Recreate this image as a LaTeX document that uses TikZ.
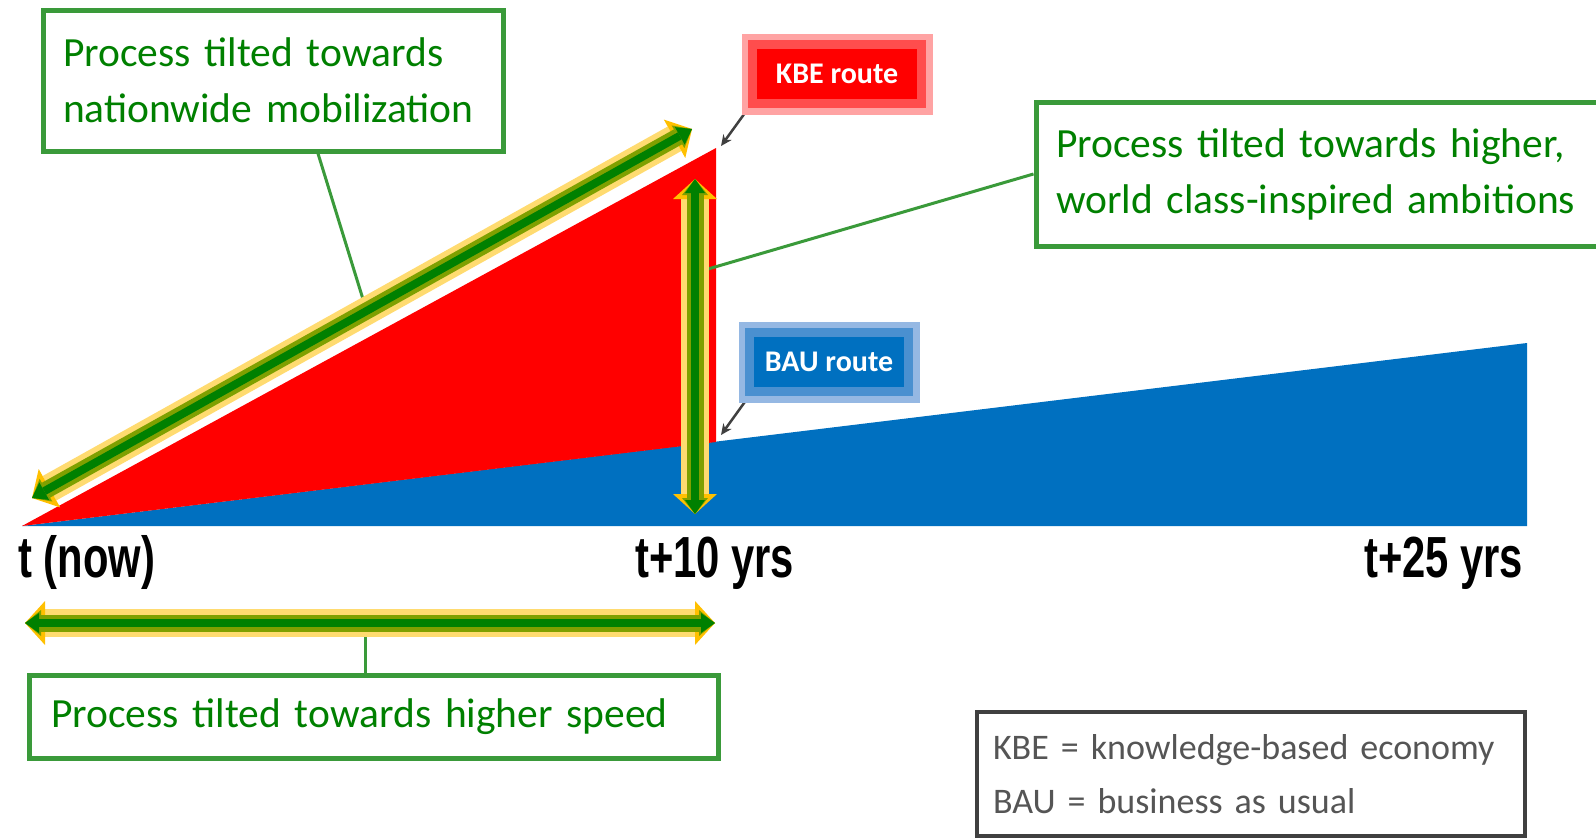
\documentclass[tikz,border=0pt]{standalone}
\usepackage{fontspec}
\setmainfont{Carlito}
\newfontfamily\axisfont{Liberation Sans}
\usetikzlibrary{arrows.meta,calc}
\definecolor{kred}{HTML}{FF0000}
\definecolor{kredmid}{HTML}{FF4D4D}
\definecolor{kredhalo}{HTML}{FFA3A3}
\definecolor{bblue}{HTML}{0070C0}
\definecolor{bbluemid}{HTML}{4A90D0}
\definecolor{bbluehalo}{HTML}{95B8E3}
\definecolor{pgreen}{HTML}{008000}
\definecolor{boxgreen}{HTML}{3A9A3A}
\definecolor{glowlt}{HTML}{FFDB70}
\definecolor{glowtip}{HTML}{FFC000}
\definecolor{glowol}{HTML}{7FA000}
\definecolor{legendgray}{HTML}{404040}
\definecolor{legendtext}{HTML}{555555}
\definecolor{pointergray}{HTML}{404040}
\tikzset{
  gbox/.style={draw=boxgreen, line width=5pt, fill=white, text=pgreen,
    font=\fontsize{41.5}{56}\selectfont, align=left, inner ysep=0pt},
  lbox/.style={draw=legendgray, line width=4pt, fill=white, text=legendtext,
    font=\fontsize{36}{54}\selectfont, align=left, inner ysep=0pt},
  routelabel/.style={line width=9pt, inner sep=0pt, text=white,
    font=\bfseries\fontsize{30}{30}\selectfont},
  kbestyle/.style={routelabel, fill=kred, draw=kredmid,
    preaction={draw=kredhalo, line width=22pt}},
  baustyle/.style={routelabel, fill=bblue, draw=bbluemid,
    preaction={draw=bbluehalo, line width=22pt}},
  axislabel/.style={inner sep=0pt, font=\axisfont\bfseries\fontsize{58}{60}\selectfont},
  conn/.style={draw=boxgreen, line width=3pt},
  pointerline/.style={draw=pointergray, line width=2.5pt, -{Stealth[length=11pt,width=10pt]}},
  glowA/.style={line width=28pt, draw=glowlt,
    {Triangle[length=20pt,width=44pt,line width=0pt,color=glowtip]}-{Triangle[length=20pt,width=44pt,line width=0pt,color=glowtip]}},
  glowB/.style={line width=17pt, draw=glowol,
    {Triangle[length=16pt,width=26pt,line width=0pt]}-{Triangle[length=16pt,width=26pt,line width=0pt]}},
  glowC/.style={line width=8pt, draw=pgreen,
    {Triangle[length=14pt,width=20pt,line width=0pt]}-{Triangle[length=14pt,width=20pt,line width=0pt]}}
}
\newcommand{\glowarrow}[2]{%
  \draw[glowA] (#1) -- (#2);
  \draw[glowB] (#1) -- (#2);
  \draw[glowC] (#1) -- (#2);
}
\begin{document}
\begin{tikzpicture}[x=1pt,y=-1pt]
\useasboundingbox[fill=white] (0,0) rectangle (1596,839);

% areas
\fill[bblue] (22,526) -- (1527,343) -- (1527,526) -- cycle;
\fill[kred] (22,526) -- (716,148) -- (716,442) -- cycle;

% arrow end points
\coordinate (d1) at (32,498);
\coordinate (d2) at (692,129);
\coordinate (v1) at (695,179);
\coordinate (v2) at (695,514);
\coordinate (h1) at (25,623);
\coordinate (h2) at (715,623);
\coordinate (dm) at ($(d1)!0.507!(d2)$);
\coordinate (vm) at ($(v1)!0.28!(v2)$);
\coordinate (hm) at ($(h1)!0.494!(h2)$);
\coordinate (kbetip) at (721,146);
\coordinate (bautip) at (721,435);

% boxes
\node[gbox, text width=420pt, inner xsep=20pt, minimum height=141pt] (mob) at (273,80.5)
  {Process tilted towards\\nationwide mobilization};
\node[gbox, text width=530pt, inner xsep=20pt, minimum height=144pt] (amb) at (1321,174)
  {Process tilted towards higher,\\world class-inspired ambitions};
\node[gbox, text width=645pt, inner xsep=22pt, minimum height=83pt] (speed) at (373.5,716.5)
  {Process tilted towards higher speed};
\node[lbox, text width=516pt, inner xsep=16pt, minimum height=124pt] (legend) at (1251,774)
  {KBE = knowledge-based economy\\BAU = business as usual};

% connectors
\draw[conn] ([xshift=45pt]mob.south) -- (dm);
\draw[conn] (amb.west) -- (vm);
\draw[conn] (hm) -- (hm |- speed.north);

% pointers
\draw[pointerline] (750,106) -- (kbetip);
\draw[pointerline] (752,392) -- (bautip);

% route labels
\node[kbestyle, minimum width=169pt, minimum height=59pt] (kbe) at (837,74) {KBE route};
\node[baustyle, minimum width=159pt, minimum height=59pt] (bau) at (829,362) {BAU route};

% glowing double arrows
\glowarrow{d1}{d2}
\glowarrow{v1}{v2}
\glowarrow{h1}{h2}

% axis labels
\node[axislabel, anchor=base west] (tnow) at (18,577) {\scalebox{0.72}[1]{t (now)}};
\node[axislabel, anchor=base west] (t10) at (635,577) {\scalebox{0.72}[1]{t+10 yrs}};
\node[axislabel, anchor=base west] (t25) at (1364,577) {\scalebox{0.72}[1]{t+25 yrs}};
\end{tikzpicture}
\end{document}
